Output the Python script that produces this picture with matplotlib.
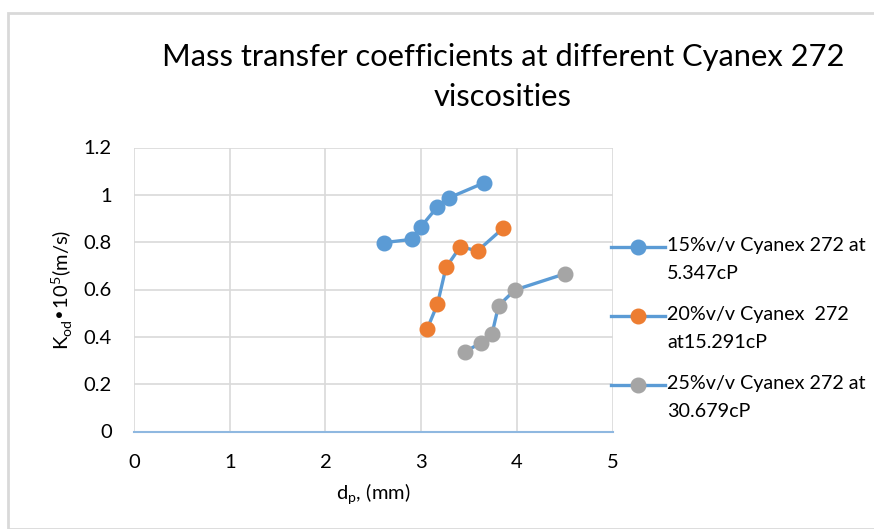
import matplotlib
matplotlib.use("Agg")
import matplotlib.pyplot as plt
from matplotlib.patches import Rectangle
from matplotlib.legend_handler import HandlerLine2D

plt.rcParams['font.family'] = ['Lato', 'DejaVu Sans']

title = "Mass transfer coefficients at different Cyanex 272\nviscosities"
xlabel = "d$_\\mathregular{p}$, (mm)"
ylabel = "K$_\\mathregular{od}$•10$^\\mathregular{5}$(m/s)"

labels = ["15%v/v Cyanex 272 at\n5.347cP",
          "20%v/v Cyanex  272\nat15.291cP",
          "25%v/v Cyanex 272 at\n30.679cP"]

x15 = [2.61, 2.905, 3.00, 3.17, 3.295, 3.66]
y15 = [0.798, 0.812, 0.866, 0.949, 0.988, 1.051]
x20 = [3.065, 3.17, 3.26, 3.41, 3.59, 3.86]
y20 = [0.435, 0.537, 0.693, 0.781, 0.763, 0.860]
x25 = [3.46, 3.63, 3.74, 3.81, 3.98, 4.50]
y25 = [0.337, 0.376, 0.411, 0.532, 0.598, 0.666]

xticks = [0, 1, 2, 3, 4, 5]
yticks = [0, 0.2, 0.4, 0.6, 0.8, 1.0, 1.2]
yticklabels = ["0", "0.2", "0.4", "0.6", "0.8", "1", "1.2"]

line_color = "#5B9BD5"
marker_colors = ["#5B9BD5", "#ED7D31", "#A5A5A5"]


class FirstLineHandler(HandlerLine2D):
    """Place the legend handle next to the first line of a two-line label."""
    def __init__(self, shift, **kw):
        super().__init__(**kw)
        self.shift = shift

    def create_artists(self, legend, orig_handle, xdescent, ydescent,
                       width, height, fontsize, trans):
        return super().create_artists(legend, orig_handle, xdescent,
                                      ydescent - self.shift, width, height,
                                      fontsize, trans)


fig = plt.figure(figsize=(8.74, 5.29), dpi=100)
fig.patches.append(Rectangle((8/874, 0), 1.0, 1 - 13/529, transform=fig.transFigure,
                             fill=False, edgecolor="#D9D9D9", linewidth=2.0, zorder=0))

ax = fig.add_axes([134/874, 1 - 431.5/529, (612.5 - 134)/874, (431.5 - 147.5)/529])

series = [(x15, y15), (x20, y20), (x25, y25)]
handles = []
for (xs, ys), mc, lab in zip(series, marker_colors, labels):
    h, = ax.plot(xs, ys, color=line_color, linewidth=2.4, marker='o', markersize=10.5,
                 markerfacecolor=mc, markeredgecolor=mc, label=lab, zorder=3)
    handles.append(h)

ax.set_xlim(0, 5)
ax.set_ylim(0, 1.2)
ax.set_xticks(xticks)
ax.set_yticks(yticks)
ax.set_yticklabels(yticklabels)
ax.grid(True, color="#D9D9D9", linewidth=1.2)
ax.set_axisbelow(True)
for s in ['top', 'right', 'left']:
    ax.spines[s].set_visible(False)
ax.spines['bottom'].set_color("#8FB8E0")
ax.spines['bottom'].set_linewidth(1.5)
ax.spines['bottom'].set_zorder(2)
ax.tick_params(axis='both', length=0, labelsize=14.5, colors="#000000")
ax.tick_params(axis='x', pad=16)
ax.tick_params(axis='y', pad=16)

ax.set_xlabel(xlabel, fontsize=14.5, labelpad=8)
ax.set_ylabel(ylabel, fontsize=14.5, labelpad=6)

fig.text(503/874, 1 - 77/529, title, ha='center', va='center', fontsize=22.2,
         linespacing=1.5)

hmap = {h: FirstLineHandler(shift=18.0) for h in handles}
leg = ax.legend(handles=handles, labels=labels, handler_map=hmap,
                loc='upper left', bbox_to_anchor=(611/874, 1 - 237/529),
                bbox_transform=fig.transFigure, frameon=False, fontsize=14.2,
                handlelength=2.75, handletextpad=0.1, labelspacing=1.25,
                borderpad=0, borderaxespad=0)
for t in leg.get_texts():
    t.set_linespacing(1.75)

fig.savefig("out.png", dpi=100)
